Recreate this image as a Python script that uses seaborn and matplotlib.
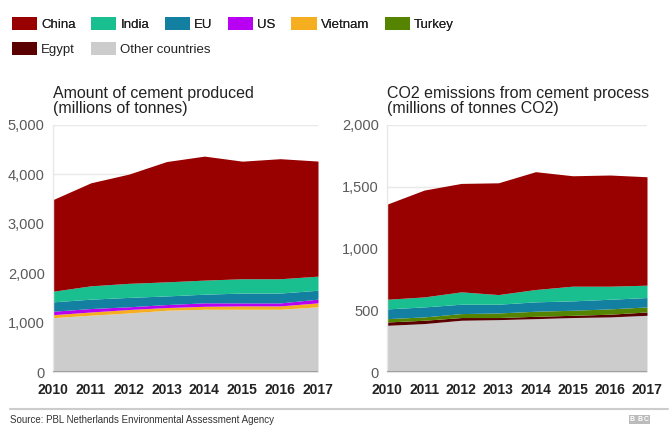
import matplotlib
matplotlib.use("Agg")
import matplotlib.pyplot as plt
from matplotlib.patches import Patch
from matplotlib.lines import Line2D
from matplotlib.ticker import FuncFormatter
import seaborn as sns

# =====================================================
# Data
# =====================================================

years = [2010, 2011, 2012, 2013, 2014, 2015, 2016, 2017]

# cement produced, millions of tonnes
prod_other = [1100, 1150, 1195, 1250, 1270, 1270, 1270, 1320]
prod_vietnam = [60, 65, 70, 55, 60, 68, 68, 80]
prod_us = [70, 70, 55, 60, 70, 60, 60, 75]
prod_eu = [190, 190, 190, 175, 175, 200, 200, 180]
prod_india = [215, 270, 285, 285, 285, 290, 290, 285]
prod_china = [1855, 2085, 2210, 2435, 2510, 2380, 2430, 2330]

# CO2 emissions, millions of tonnes CO2
co2_other = [378, 392, 419, 424, 432, 441, 446, 459]
co2_egypt = [27, 27, 22, 17, 19, 18, 22, 27]
co2_turkey = [27, 27, 32, 37, 41, 41, 43, 41]
co2_eu = [79, 81, 76, 71, 76, 76, 78, 76]
co2_india = [78, 81, 100, 78, 100, 119, 106, 100]
co2_china = [770, 865, 878, 905, 954, 894, 900, 878]

legend_row1 = ["China", "India", "EU", "US", "Vietnam", "Turkey"]
legend_row2 = ["Egypt", "Other countries"]

colors = {
    "China": "#990000",
    "India": "#1ABF8F",
    "EU": "#1380A1",
    "US": "#B800F2",
    "Vietnam": "#F5AE1F",
    "Turkey": "#558500",
    "Egypt": "#5A0000",
    "Other countries": "#CCCCCC",
}

# =====================================================
# Style
# =====================================================

sns.set_theme(style="white")
plt.rcParams["font.family"] = ["Liberation Sans", "DejaVu Sans"]

fig = plt.figure(figsize=(6.72, 4.25), dpi=100)

ax1 = fig.add_axes([53 / 672, 1 - 372 / 425, 265 / 672, 247 / 425])
ax2 = fig.add_axes([387 / 672, 1 - 372 / 425, 260 / 672, 247 / 425])

left_series = [
    ("Other countries", prod_other),
    ("Vietnam", prod_vietnam),
    ("US", prod_us),
    ("EU", prod_eu),
    ("India", prod_india),
    ("China", prod_china),
]

right_series = [
    ("Other countries", co2_other),
    ("Egypt", co2_egypt),
    ("Turkey", co2_turkey),
    ("EU", co2_eu),
    ("India", co2_india),
    ("China", co2_china),
]


def draw_panel(ax, series, ymax, step, title):
    ax.stackplot(
        years,
        *[vals for _, vals in series],
        colors=[colors[name] for name, _ in series],
        linewidth=0,
        zorder=2,
    )
    ax.set_xlim(years[0], years[-1])
    ax.set_ylim(0, ymax)
    ax.set_yticks(range(0, ymax + 1, step))
    ax.set_xticks(years)
    ax.yaxis.set_major_formatter(FuncFormatter(lambda v, p: f"{int(v):,}"))
    ax.grid(axis="y", color="#e8e8e8", linewidth=1, zorder=0)
    ax.grid(axis="x", visible=False)
    ax.axhline(0, color="#a0a0a0", linewidth=1.5, zorder=3)
    ax.tick_params(axis="y", length=0, pad=6, labelsize=10.5, labelcolor="#5a5a5a")
    ax.tick_params(axis="x", length=0, pad=8, labelsize=10, labelcolor="#222222")
    for lbl in ax.get_xticklabels():
        lbl.set_fontweight("bold")
    sns.despine(ax=ax, top=True, right=True, bottom=True, left=False)
    ax.spines["left"].set_color("#e8e8e8")
    ax.spines["left"].set_linewidth(1)
    ax.set_title(title, loc="left", fontsize=11.5, color="#222222",
                 linespacing=0.95, pad=9)


draw_panel(ax1, left_series, 5000, 1000,
           "Amount of cement produced\n(millions of tonnes)")
draw_panel(ax2, right_series, 2000, 500,
           "CO2 emissions from cement process\n(millions of tonnes CO2)")

# =====================================================
# Legend
# =====================================================

leg_kw = dict(
    frameon=False,
    fontsize=9.5,
    handlelength=1.9,
    handleheight=1.1,
    handletextpad=0.3,
    columnspacing=1.2,
    borderpad=0,
    borderaxespad=0,
    labelcolor="#222222",
    loc="upper left",
)

h1 = [Patch(facecolor=colors[n], edgecolor="none") for n in legend_row1]
h2 = [Patch(facecolor=colors[n], edgecolor="none") for n in legend_row2]

leg1 = fig.legend(h1, legend_row1, ncol=len(legend_row1),
                  bbox_to_anchor=(12 / 672, 1 - 17 / 425), **leg_kw)
fig.add_artist(leg1)
fig.legend(h2, legend_row2, ncol=len(legend_row2),
           bbox_to_anchor=(12 / 672, 1 - 42 / 425), **leg_kw)

# =====================================================
# Footer
# =====================================================

fig.add_artist(Line2D([10 / 672, 668 / 672], [1 - 409 / 425] * 2,
                      color="#cccccc", linewidth=1.5))
fig.text(10 / 672, 1 - 415 / 425,
         "Source: PBL Netherlands Environmental Assessment Agency",
         fontsize=7, color="#333333", va="top", ha="left")
for i, letter in enumerate("BBC"):
    fig.text((630 + i * 7) / 672, 1 - 416 / 425, letter, fontsize=5,
             color="#ffffff", fontweight="bold", va="top", ha="left",
             bbox=dict(facecolor="#bbbbbb", edgecolor="none", pad=0.8))

fig.savefig("out.png", dpi=100)
plt.close(fig)
